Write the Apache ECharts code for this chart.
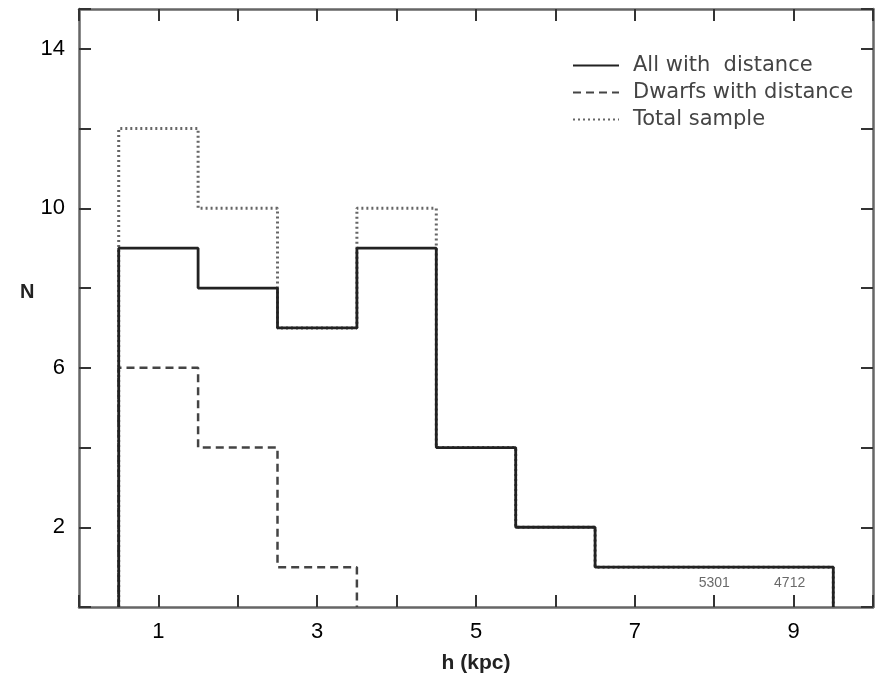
<!DOCTYPE html>
<html>
<head>
<meta charset="utf-8">
<script src="https://cdn.jsdelivr.net/npm/echarts@6/dist/echarts.min.js"></script>
<style>
  html, body { margin: 0; padding: 0; background: #fff; }
  #chart { width: 880px; height: 682px; }
</style>
</head>
<body>
<div id="chart"></div>
<script>
// bin edges (kpc) and counts per bin
const binEdges = [0.5, 1.5, 2.5, 3.5, 4.5, 5.5, 6.5, 7.5, 8.5, 9.5];
const allWithDistance = [9, 8, 7, 9, 4, 2, 1, 1, 1];
const dwarfsWithDistance = [6, 4, 1];
const totalSample = [12, 10, 7, 10, 4, 2, 1, 1, 1];
const xTickLabels = [1, 3, 5, 7, 9];
const yTickLabels = [2, 6, 10, 14];
// small galaxy names written inside the last bins
const notes = [
  { x: 8.0, y: 0.6, text: '5301' },
  { x: 8.95, y: 0.6, text: '4712' }
];

// turn counts into a closed step outline
function outline(counts) {
  let pts = [[binEdges[0], 0]];
  for (let i = 0; i < counts.length; i++) {
    pts.push([binEdges[i], counts[i]]);
    pts.push([binEdges[i + 1], counts[i]]);
  }
  pts.push([binEdges[counts.length], 0]);
  return pts;
}

const font = 'Liberation Sans';
const frame = { show: true, onZero: false, lineStyle: { color: '#666', width: 2.5 } };
const tick = { inside: true, length: 12, lineStyle: { color: '#333', width: 2 } };

let chart = echarts.init(document.getElementById('chart'));
chart.setOption({
  animation: false,
  backgroundColor: '#fff',
  grid: { left: 79, right: 7, top: 9, bottom: 75 },
  legend: {
    orient: 'vertical',
    left: 567,
    top: 50,
    itemWidth: 46,
    itemHeight: 16,
    itemGap: 6,
    itemStyle: { opacity: 0 },
    textStyle: { fontFamily: 'DejaVu Sans', fontSize: 21, lineHeight: 18, color: '#444', padding: [0, 0, 0, 9] },
    data: ['All with  distance', 'Dwarfs with distance', 'Total sample']
  },
  graphic: [{
    type: 'text', left: 20, top: 282,
    style: { text: 'N', font: 'bold 20px "Liberation Sans"', fill: '#222' }
  }],
  xAxis: [{
    type: 'value', min: 0, max: 10, interval: 1,
    splitLine: { show: false },
    axisLine: frame,
    axisTick: tick,
    axisLabel: {
      margin: 14, fontFamily: font, fontSize: 22, color: '#000',
      formatter: v => xTickLabels.includes(v) ? String(v) : ''
    },
    name: 'h (kpc)', nameLocation: 'middle', nameGap: 46,
    nameTextStyle: { fontFamily: font, fontSize: 21, fontWeight: 'bold', color: '#222' }
  }, {
    type: 'value', position: 'top', min: 0, max: 10, interval: 1,
    splitLine: { show: false },
    axisLine: frame,
    axisTick: tick,
    axisLabel: { show: false }
  }],
  yAxis: [{
    type: 'value', min: 0, max: 15, interval: 2,
    splitLine: { show: false },
    axisLine: frame,
    axisTick: tick,
    axisLabel: {
      margin: 14, fontFamily: font, fontSize: 22, color: '#000',
      formatter: v => yTickLabels.includes(v) ? String(v) : ''
    }
  }, {
    type: 'value', position: 'right', min: 0, max: 15, interval: 2,
    splitLine: { show: false },
    axisLine: frame,
    axisTick: tick,
    axisLabel: { show: false }
  }],
  series: [{
    name: 'Total sample', type: 'line', symbol: 'none',
    data: outline(totalSample),
    itemStyle: { color: '#666' },
    lineStyle: { color: '#666', width: 3, type: [2, 3] }
  }, {
    name: 'Dwarfs with distance', type: 'line', symbol: 'none',
    data: outline(dwarfsWithDistance),
    itemStyle: { color: '#444' },
    lineStyle: { color: '#444', width: 2.5, type: [8, 5] }
  }, {
    name: 'All with  distance', type: 'line', symbol: 'none',
    data: outline(allWithDistance),
    itemStyle: { color: '#222' },
    lineStyle: { color: '#222', width: 2.8 }
  }, {
    type: 'scatter', symbolSize: 0, silent: true,
    data: notes.map(n => [n.x, n.y, n.text]),
    label: {
      show: true, position: 'inside',
      fontFamily: font, fontSize: 14, color: '#444',
      formatter: p => p.value[2]
    }
  }]
});
</script>
</body>
</html>
